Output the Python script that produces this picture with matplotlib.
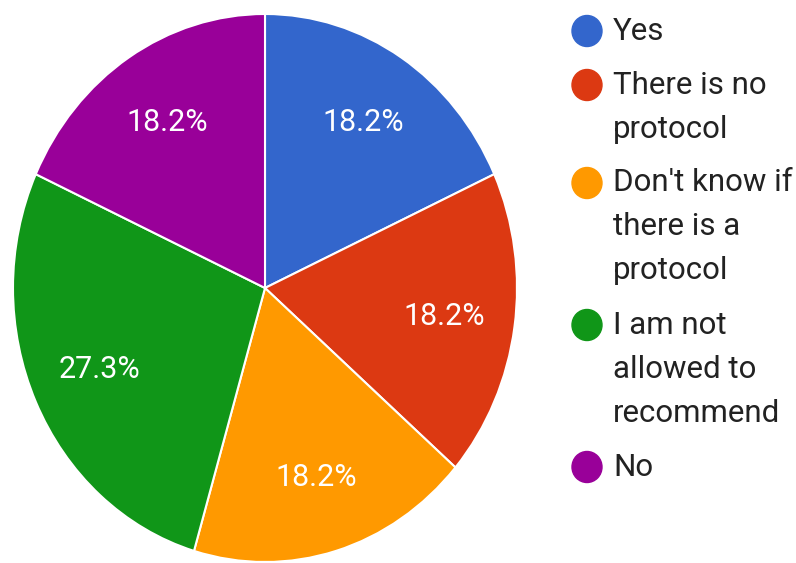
import matplotlib
matplotlib.use("Agg")
import matplotlib.pyplot as plt
from matplotlib.patches import Ellipse

labels = ["Yes", "There is no\nprotocol", "Don't know if\nthere is a\nprotocol",
          "I am not\nallowed to\nrecommend", "No"]
counts = [2, 2, 2, 3, 2]
colors = ["#3366cc", "#dc3912", "#ff9900", "#109618", "#990099"]

W, H = 796, 563
fig = plt.figure(figsize=(W / 100, H / 100), dpi=100)

# pie area (picture is stretched vertically, so keep aspect auto)
ax = fig.add_axes([13 / W, 1 / H, 504 / W, 548 / H])
wedges, texts, autotexts = ax.pie(
    counts, colors=colors, startangle=90, counterclock=False,
    autopct="%.1f%%", pctdistance=0.72,
    wedgeprops=dict(edgecolor="white", linewidth=1.5),
    textprops=dict(color="white", fontsize=22, family="Roboto"))
ax.set_aspect("auto")
ax.set_xlim(-1, 1)
ax.set_ylim(-1, 1)
ax.axis("off")

# legend drawn by hand
line_h = 44
y = 31
for lab, col in zip(labels, colors):
    fig.add_artist(Ellipse((587 / W, 1 - y / H), 30 / W, 31 / H,
                           transform=fig.transFigure, color=col))
    for i, part in enumerate(lab.split("\n")):
        fig.text(613 / W, 1 - (y + i * line_h) / H, part, fontsize=22.5,
                 family="Roboto", color="#222222", va="center", ha="left")
    y += line_h * (lab.count("\n") + 1) + 10

fig.savefig("out.png", dpi=100, facecolor="white")
